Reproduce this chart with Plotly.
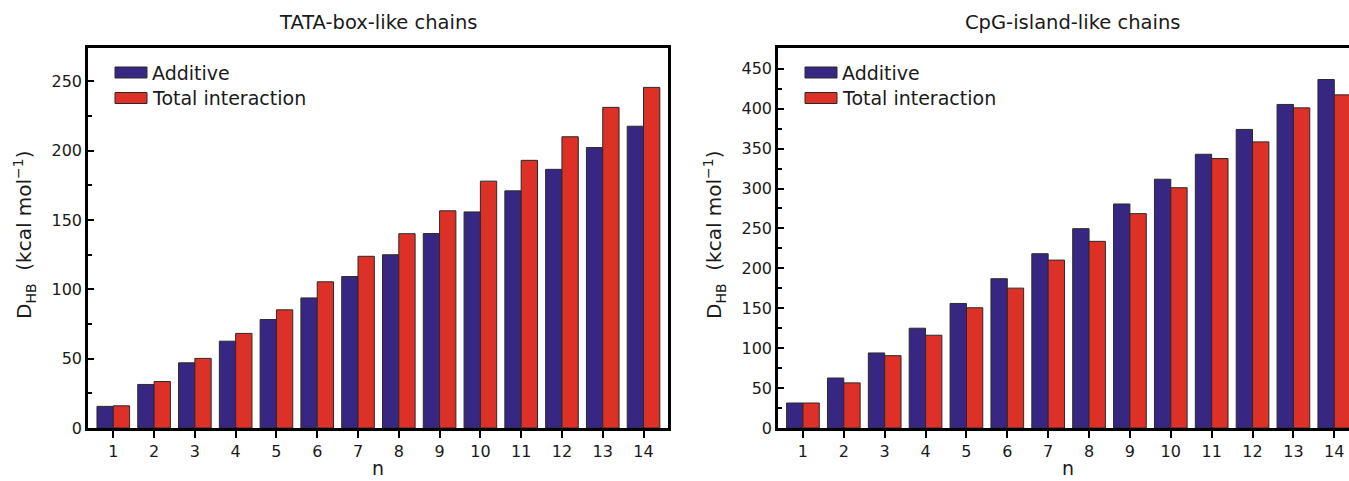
import plotly.graph_objects as go

# Chain length n
n_values = list(range(1, 15))

# TATA-box-like chains: D_HB (kcal/mol)
tata_additive = [15.6, 31.4, 47.0, 62.6, 78.2, 93.8, 109.2, 124.9, 140.2, 155.8, 171.0, 186.5, 202.2, 217.6]
tata_total = [16.0, 33.5, 50.2, 68.2, 85.2, 105.4, 123.8, 140.1, 156.6, 178.0, 193.0, 210.0, 231.2, 245.6]

# CpG-island-like chains: D_HB (kcal/mol)
cpg_additive = [31.3, 62.6, 94.0, 125.0, 156.0, 187.0, 218.3, 249.7, 280.6, 311.6, 342.9, 374.0, 405.3, 436.5]
cpg_total = [31.3, 56.5, 90.6, 116.2, 150.6, 175.2, 210.3, 233.8, 268.5, 301.0, 337.5, 358.4, 401.0, 417.3]

series_names = ["Additive", "Total interaction"]
panel_titles = ["TATA-box-like chains", "CpG-island-like chains"]

BLUE = "#382782"
RED = "#dd3026"
EDGE = "#2a2a2a"
INK = "#1a1a1a"
FONT = "DejaVu Sans"

W, H = 1349, 481
ML, MR, MT, MB = 0, 0, 48, 53
PLOT_H = H - MT - MB


def fx(px):
    return (px - ML) / (W - ML - MR)


def fy(py):
    return (H - MB - py) / PLOT_H


fig = go.Figure()

panels = [
    ("x", "y", tata_additive, tata_total),
    ("x2", "y2", cpg_additive, cpg_total),
]
for xa, ya, add_vals, tot_vals in panels:
    for name, vals, color in zip(series_names, [add_vals, tot_vals], [BLUE, RED]):
        fig.add_trace(go.Bar(
            x=n_values, y=vals, name=name, xaxis=xa, yaxis=ya,
            marker=dict(color=color, line=dict(color=EDGE, width=1)),
            showlegend=False,
        ))

common_x = dict(
    tickmode="array", tickvals=n_values, ticktext=[str(v) for v in n_values],
    ticks="outside", ticklen=7, tickwidth=2, tickcolor="black",
    showline=True, linewidth=2.5, linecolor="black", mirror=True,
    showgrid=False, zeroline=False,
    tickfont=dict(family=FONT, size=16, color=INK),
)
common_y = dict(
    dtick=50, tick0=0,
    ticks="inside", ticklen=6, tickwidth=2, tickcolor="black",
    minor=dict(dtick=25, ticks="inside", ticklen=4, tickwidth=1.5, tickcolor="black"),
    showline=True, linewidth=2.5, linecolor="black",
    showgrid=False, zeroline=False,
    tickfont=dict(family=FONT, size=16, color=INK),
)

fig.update_layout(
    width=W, height=H,
    margin=dict(l=ML, r=MR, t=MT, b=MB),
    paper_bgcolor="white", plot_bgcolor="white",
    barmode="group", bargap=0.2, bargroupgap=0,
    xaxis=dict(domain=[fx(88), fx(668)], range=[0.38, 14.6], anchor="y", **common_x),
    yaxis=dict(domain=[0, 1], range=[0, 274], anchor="x", mirror=True, **common_y),
    xaxis2=dict(domain=[fx(778), 1], range=[0.39, 14.36], anchor="y2", **common_x),
    yaxis2=dict(domain=[0, 1], range=[0, 476], anchor="x2", mirror=False, **common_y),
)

annotations = []
shapes = []

# Panel titles
for title, cx in zip(panel_titles, [378, 1072]):
    annotations.append(dict(
        text=title, x=fx(cx), y=fy(23), xref="paper", yref="paper",
        xanchor="center", yanchor="middle", showarrow=False,
        font=dict(family=FONT, size=19.5, color=INK),
    ))

# Axis titles
ytitle = "D<sub>HB</sub>  (kcal mol<sup>−1</sup>)"
for cx in [24, 714]:
    annotations.append(dict(
        text=ytitle, x=fx(cx), y=fy(235), xref="paper", yref="paper",
        xanchor="center", yanchor="middle", showarrow=False, textangle=-90,
        font=dict(family=FONT, size=20, color=INK),
    ))
for cx in [378, 1068]:
    annotations.append(dict(
        text="n", x=fx(cx), y=fy(481), xref="paper", yref="paper",
        xanchor="center", yanchor="bottom", showarrow=False,
        font=dict(family=FONT, size=19, color=INK),
    ))

# Legends drawn as swatch + label inside each panel
for sx in [115, 805]:
    for i, (name, color) in enumerate(zip(series_names, [BLUE, RED])):
        cy = 72.5 + i * 25.5
        shapes.append(dict(
            type="rect", xref="paper", yref="paper",
            x0=fx(sx), x1=fx(sx + 32), y0=fy(cy - 5.5), y1=fy(cy + 5.5),
            fillcolor=color, line=dict(color=EDGE, width=1),
        ))
        annotations.append(dict(
            text=name, x=fx(sx + 35), y=fy(cy), xref="paper", yref="paper",
            xanchor="left", yanchor="middle", showarrow=False,
            font=dict(family=FONT, size=19, color=INK),
        ))

fig.update_layout(annotations=annotations, shapes=shapes)

fig.write_html("out.html")
